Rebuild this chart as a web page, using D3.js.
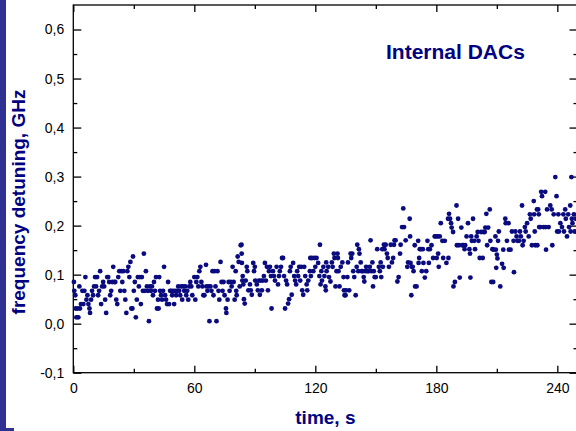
<!DOCTYPE html>
<html>
  <head>
    <meta charset="UTF-8" />
    <script src="https://d3js.org/d3.v7.min.js"></script>
    <style>
      body { margin: 0; background: #fff; }
      svg { display: block; font-family: "Liberation Sans", Arial, sans-serif; }
    </style>
  </head>
  <body>
    <div id="my_dataviz"></div>
    <script>
      // tick values
      var xMajor = [0, 60, 120, 180, 240];
      var xMinor = [30, 90, 150, 210];
      var yMajor = [-0.1, 0, 0.1, 0.2, 0.3, 0.4, 0.5, 0.6];
      var yMinor = [-0.05, 0.05, 0.15, 0.25, 0.35, 0.45, 0.55];

      // [time s, detuning GHz]
      var samples = [
        [0.3,0.085],[0.5,0.067],[1,0.058],[1.2,0.031],[1.5,0.013],[2,0.031],[2.5,0.013],[3,0.076],[3.3,0.031],[3.8,0.04],
        [4.5,0.067],[5,0.04],[5.5,0.067],[6,0.095],[6.5,0.049],[7,0.058],[7.5,0.04],[8,0.031],[8.3,0.022],[8.8,0.049],
        [9.3,0.067],[9.8,0.058],[10.3,0.076],[10.8,0.095],[11.3,0.076],[11.8,0.095],[12.3,0.058],[12.8,0.067],[13.3,0.107],[13.8,0.04],
        [14.3,0.076],[14.8,0.085],[15.3,0.076],[15.8,0.049],[16.3,0.022],[16.8,0.095],[17.3,0.095],[17.8,0.085],[18.3,0.058],[18.8,0.067],
        [19.3,0.085],[19.8,0.116],[20.3,0.085],[20.8,0.085],[21.3,0.049],[21.8,0.04],[22.3,0.095],[22.8,0.107],[23.3,0.067],[23.8,0.107],
        [24.3,0.085],[24.8,0.107],[25.3,0.067],[25.8,0.049],[26.3,0.022],[26.8,0.107],[27.3,0.116],[27.8,0.095],[28.3,0.126],[28.8,0.031],
        [29.3,0.031],[29.6,0.137],[30,0.067],[30.5,0.085],[31,0.013],[31.5,0.049],[32,0.095],[32.5,0.076],[33,0.095],[33.5,0.04],
        [34,0.095],[34.5,0.067],[35,0.143],[35.5,0.067],[36,0.107],[36.5,0.076],[37,0.067],[37.5,0.005],[38,0.076],[38.5,0.067],
        [39,0.076],[39.5,0.058],[40,0.085],[40.5,0.067],[41,0.095],[41.5,0.031],
        [42,0.049],[42.3,0.031],[42.6,0.095],[43,0.067],[43.5,0.058],[44,0.049],[44.5,0.067],[45,0.116],[45.5,0.058],[46,0.049],
        [46.5,0.04],[47,0.085],[47.5,0.04],[48,0.067],[48.5,0.067],[49,0.058],[49.5,0.067],[50,0.04],[50.5,0.067],[51,0.058],
        [51.5,0.067],[52,0.076],[52.5,0.067],[53,0.058],[53.5,0.076],[54,0.049],[54.5,0.076],[55,0.067],[55.5,0.076],[56,0.058],
        [56.5,0.067],[57,0.049],[57.5,0.076],[58,0.085],[58.5,0.076],[59,0.058],[60,0.095],[60.5,0.049],[61,0.085],[61.5,0.095],
        [62,0.076],[62.5,0.107],[63,0.116],[63.5,0.085],[64,0.076],[64.5,0.058],[65,0.058],[65.8,0.12],[66,0.076],[66.5,0.067],
        [67,0.076],[67.5,0.005],[68,0.076],[68.5,0.067],[69,0.107],[69.5,0.058],[70,0.107],[70.5,0.076],[71,0.005],[71.5,0.107],
        [72,0.067],[72.4,0.049],[73,0.126],[73.5,0.085],[74,0.067],[74.5,0.085],[75,0.058],[75.7,0.031],[75.9,0.022],[76.5,0.049],
        [77,0.085],[77.5,0.067],[78,0.085],[78.5,0.076],[79,0.116],[79.5,0.085],[80,0.049],[80.5,0.107],[80.8,0.067],[81,0.058],
        [81.5,0.137],[82,0.126],[82.5,0.076],[83,0.16],
        [83.4,0.161],[83.5,0.143],[83.6,0.124],[83.8,0.088],[84,0.097],[84.3,0.08],[84.6,0.05],[85,0.041],[85.5,0.088],[86,0.116],
        [86.3,0.107],[86.8,0.068],[87.6,0.08],[88,0.068],[88.5,0.059],[89.2,0.124],[89.6,0.107],[90,0.116],[90.2,0.088],[91,0.08],
        [91.5,0.068],[92,0.088],[92.5,0.059],[93,0.088],[93.5,0.068],[94,0.088],[94.5,0.097],[95,0.124],[95.5,0.088],[96,0.116],
        [96.5,0.068],[97,0.107],[97.5,0.116],[98,0.097],[98.3,0.031],[99,0.107],[99.5,0.097],[100,0.088],[100.8,0.116],[101.5,0.08],
        [102,0.097],[102.4,0.107],[103,0.116],[103.5,0.134],[104,0.134],[104.5,0.097],[105,0.031],[105.5,0.088],[106,0.08],[106.5,0.041],
        [107,0.05],[107.4,0.107],[107.8,0.116],[108.3,0.059],[109,0.124],[109.5,0.097],[110,0.088],[110.5,0.08],[111,0.107],[111.5,0.097],
        [112,0.116],[112.5,0.088],[113,0.116],[113.5,0.068],[114,0.059],[114.5,0.116],[115,0.097],[115.7,0.08],[116,0.068],[116.5,0.088],
        [117.3,0.107],[117.5,0.134],[117.8,0.097],[118.3,0.134],[119,0.107],[119.5,0.134],[120,0.116],[120.6,0.134],[121.4,0.124],[122,0.097],
        [122.3,0.161],[122.6,0.08],[123,0.107],[123.3,0.088],[124,0.116],[124.5,0.097],
        [125,0.076],[125.2,0.068],[125.4,0.125],[125.6,0.107],[126.4,0.116],[126.8,0.095],[127.5,0.086],[128.2,0.125],[128.6,0.116],[129.2,0.143],
        [129.5,0.134],[130,0.076],[130.5,0.107],[131,0.143],[131.2,0.134],[131.5,0.107],[132,0.076],[132.6,0.116],[133.4,0.125],[134,0.095],
        [134.2,0.068],[134.5,0.058],[135,0.058],[135.2,0.068],[135.9,0.095],[136.2,0.125],[136.8,0.068],[137.5,0.143],[137.8,0.134],[138.3,0.143],
        [138.8,0.107],[139.3,0.095],[140,0.058],[140.5,0.116],[140.8,0.161],[141.3,0.107],[141.6,0.152],[141.9,0.143],[142.5,0.125],[143,0.107],
        [143.5,0.107],[144,0.095],[144.3,0.086],[144.8,0.107],[145.2,0.116],[145.8,0.107],[146.4,0.107],[147,0.116],[147.4,0.17],[147.8,0.107],
        [148.3,0.125],[148.6,0.076],[149,0.107],[149.4,0.095],[150,0.095],[150.7,0.152],[151.5,0.116],[152,0.107],[152.4,0.125],[152.7,0.095],
        [153.2,0.152],[153.5,0.116],[154,0.161],[154.3,0.152],[154.9,0.161],[155.5,0.143],[155.9,0.134],[156.5,0.116],[157.4,0.161],[158,0.125],
        [158.6,0.134],[159,0.161],[159.3,0.17],[159.8,0.17],[160.7,0.086],[161.3,0.095],[162,0.143],[162.3,0.161],[163,0.197],[163.6,0.235],
        [164,0.197],[164.8,0.17],[165.6,0.116],[166,0.125],
        [166.8,0.214],[167,0.178],[167.2,0.124],[167.6,0.058],[167.8,0.116],[168.3,0.116],[168.7,0.107],[169.3,0.16],[169.5,0.076],[170.2,0.076],
        [171,0.169],[171.2,0.124],[171.5,0.134],[171.8,0.152],[172.4,0.152],[172.8,0.107],[173.3,0.152],[173.6,0.124],[174.3,0.094],[175,0.107],
        [175.6,0.169],[176,0.152],[176.3,0.124],[176.8,0.152],[177.6,0.16],[178.4,0.134],[179.2,0.178],[179.8,0.178],[180.2,0.134],[180.7,0.178],
        [180.9,0.143],[181.2,0.116],[181.7,0.178],[182.2,0.205],[183,0.169],[183.4,0.134],[184.2,0.169],[185,0.124],[185.8,0.214],[186,0.134],
        [186.3,0.224],[186.8,0.214],[187.3,0.205],[187.6,0.196],[188.3,0.187],[188.5,0.076],[189.2,0.085],[190,0.241],[190.2,0.16],[190.8,0.214],
        [191.2,0.16],[191.6,0.094],[192.4,0.196],[192.8,0.16],[193.4,0.16],[194,0.152],[194.3,0.16],[195,0.178],[195.7,0.205],[196.4,0.152],
        [196.7,0.143],[196.9,0.094],[197.3,0.178],[197.6,0.169],[198.2,0.214],[198.8,0.169],[199.2,0.152],[200,0.178],[200.5,0.187],[200.9,0.169],
        [201.5,0.134],[202.2,0.187],[203,0.134],[203.3,0.187],[204,0.187],[204.3,0.196],[204.8,0.224],[205.2,0.16],[205.7,0.196],[206.5,0.233],
        [206.8,0.169],[207.3,0.085],[207.8,0.152],
        [208.2,0.085],[208.4,0.151],[209.3,0.178],[209.5,0.151],[209.7,0.114],[210,0.141],[210.3,0.133],[210.6,0.169],[211,0.188],[211.7,0.076],
        [212.6,0.122],[213.2,0.151],[213.4,0.114],[214.2,0.214],[214.4,0.205],[215,0.169],[215.8,0.205],[216,0.151],[216.8,0.151],[217.5,0.188],
        [218.3,0.169],[218.5,0.105],[219.2,0.188],[219.8,0.178],[220.2,0.169],[221,0.169],[221.5,0.188],[221.9,0.178],[222.5,0.241],[222.8,0.16],
        [223.3,0.169],[223.9,0.197],[224.3,0.188],[225,0.205],[225.8,0.178],[226.4,0.223],[226.8,0.214],[227.4,0.16],[228.3,0.25],[228.5,0.223],
        [228.8,0.188],[229.1,0.16],[229.9,0.233],[230.1,0.16],[230.5,0.233],[230.8,0.223],[231,0.197],[231.6,0.197],[232,0.269],[232.4,0.26],
        [233.2,0.197],[234,0.269],[234.2,0.197],[234.4,0.151],[234.9,0.233],[235.7,0.197],[236.5,0.241],[237.2,0.233],[237.5,0.16],[238.2,0.223],
        [239,0.299],[239.6,0.26],[239.9,0.188],[240.5,0.223],[240.8,0.188],[241.5,0.205],[242.3,0.197],[243,0.223],[243.3,0.188],[243.9,0.233],
        [244.2,0.214],[244.8,0.178],[245.4,0.223],[245.8,0.197],[246.4,0.241],[246.6,0.188],[247,0.299],[247.2,0.214],[247.5,0.205],[248.2,0.223],
        [248.6,0.188],[249.2,0.214]
      ];

      var W = 576, H = 431;
      var margin = { top: 5, right: -1.5, bottom: 58.3, left: 73.3 };

      var svg = d3
        .select("#my_dataviz")
        .append("svg")
        .attr("width", W)
        .attr("height", H);

      // blue strip at left edge
      svg.append("rect").attr("x", 0).attr("y", 0).attr("width", 6).attr("height", H).attr("fill", "#2e3192");
      svg.append("rect").attr("x", 0).attr("y", 428).attr("width", 14).attr("height", 3).attr("fill", "#2e3192");

      var xScale = d3.scaleLinear().domain([0, 250]).range([margin.left, W - margin.right]);
      var yScale = d3.scaleLinear().domain([-0.1, 0.65]).range([H - margin.bottom, margin.top]);

      var fmt = function (d) { return d.toFixed(1).replace(".", ","); };

      function styleAxis(g) {
        g.select(".domain").remove();
        g.selectAll(".tick line").attr("stroke", "#000").attr("stroke-width", 1.3);
        g.selectAll(".tick text").attr("fill", "#000").style("font-size", "14px")
          .style("font-family", '"Liberation Sans", Arial, sans-serif');
      }

      var x0 = xScale(0), x1 = xScale(250), y0 = yScale(-0.1), y1 = yScale(0.65);

      // left
      svg.append("g").attr("transform", "translate(" + x0 + ",0)")
        .call(d3.axisLeft(yScale).tickValues(yMajor).tickSizeInner(-8).tickSizeOuter(0).tickPadding(9).tickFormat(fmt))
        .call(styleAxis);
      svg.append("g").attr("transform", "translate(" + x0 + ",0)")
        .call(d3.axisLeft(yScale).tickValues(yMinor).tickSizeInner(-4).tickSizeOuter(0).tickFormat(""))
        .call(styleAxis);
      // right
      svg.append("g").attr("transform", "translate(" + x1 + ",0)")
        .call(d3.axisRight(yScale).tickValues(yMajor).tickSizeInner(-8).tickSizeOuter(0).tickFormat(""))
        .call(styleAxis);
      svg.append("g").attr("transform", "translate(" + x1 + ",0)")
        .call(d3.axisRight(yScale).tickValues(yMinor).tickSizeInner(-4).tickSizeOuter(0).tickFormat(""))
        .call(styleAxis);
      // bottom
      svg.append("g").attr("transform", "translate(0," + y0 + ")")
        .call(d3.axisBottom(xScale).tickValues(xMajor).tickSizeInner(-7).tickSizeOuter(0).tickPadding(10).tickFormat(d3.format("d")))
        .call(styleAxis);
      svg.append("g").attr("transform", "translate(0," + y0 + ")")
        .call(d3.axisBottom(xScale).tickValues(xMinor).tickSizeInner(-4).tickSizeOuter(0).tickFormat(""))
        .call(styleAxis);
      // top
      svg.append("g").attr("transform", "translate(0," + y1 + ")")
        .call(d3.axisTop(xScale).tickValues(xMajor).tickSizeInner(-7).tickSizeOuter(0).tickFormat(""))
        .call(styleAxis);
      svg.append("g").attr("transform", "translate(0," + y1 + ")")
        .call(d3.axisTop(xScale).tickValues(xMinor).tickSizeInner(-4).tickSizeOuter(0).tickFormat(""))
        .call(styleAxis);

      // frame
      svg.append("rect")
        .attr("x", x0).attr("y", y1)
        .attr("width", x1 - x0).attr("height", y0 - y1)
        .attr("fill", "none").attr("stroke", "#000").attr("stroke-width", 1.3);

      // points
      svg.append("g")
        .selectAll("circle")
        .data(samples)
        .join("circle")
        .attr("cx", function (d) { return xScale(d[0]); })
        .attr("cy", function (d) { return yScale(d[1]); })
        .attr("r", 2.4)
        .attr("fill", "#0b0b80");

      // labels
      svg.append("text")
        .attr("x", 386).attr("y", 59)
        .attr("fill", "#000080")
        .style("font-size", "21px").style("font-weight", "bold")
        .text("Internal DACs");

      svg.append("text")
        .attr("x", (x0 + x1) / 2).attr("y", 424)
        .attr("text-anchor", "middle")
        .attr("fill", "#000080")
        .style("font-size", "19px").style("font-weight", "bold")
        .text("time, s");

      svg.append("text")
        .attr("transform", "translate(25,202) rotate(-90)")
        .attr("text-anchor", "middle")
        .attr("fill", "#000080")
        .style("font-size", "19px").style("font-weight", "bold")
        .text("frequency detuning, GHz");
    </script>
  </body>
</html>
